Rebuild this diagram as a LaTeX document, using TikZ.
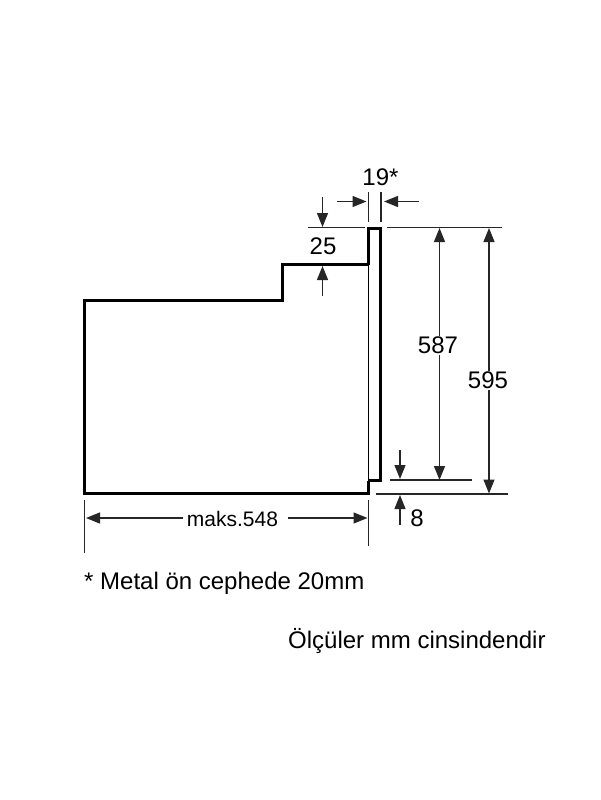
\documentclass[tikz,border=0pt]{standalone}
\usepackage{fontspec}
\setmainfont{Liberation Sans}
\usetikzlibrary{arrows.meta}
\tikzset{
  outline/.style={line width=2.6pt,line join=miter},
  thinline/.style={line width=1.3pt,black!85},
  dimline/.style={line width=1.3pt,black!85,-{Triangle[length=14pt,width=11pt]},shorten >=0pt},
  dimboth/.style={line width=1.3pt,black!85,{Triangle[length=14pt,width=11pt]}-{Triangle[length=14pt,width=11pt]}},
  dimtext/.style={font=\fontsize{24}{28}\selectfont,inner sep=1pt},
  notetext/.style={font=\fontsize{24}{28}\selectfont,inner sep=0pt,anchor=base west}
}
\begin{document}
\begin{tikzpicture}[x=1pt,y=-1pt]
  \useasboundingbox (0,0) rectangle (600,800);
  % body of the oven
  \coordinate (bodyA) at (84.5,300.5);
  \coordinate (bodyB) at (282.5,300.5);
  \coordinate (bodyC) at (282.5,264.5);
  \coordinate (bodyD) at (368.5,264.5);
  \coordinate (bodyE) at (368.5,493.5);
  \coordinate (bodyF) at (84.5,493.5);
  \draw[outline] (bodyD)--(bodyC)--(bodyB)--(bodyA)--(bodyF)--(bodyE)--++(0,-13);
  % front panel
  \coordinate (panelA) at (368.5,228.5);
  \coordinate (panelB) at (380.5,228.5);
  \coordinate (panelC) at (380.5,480.5);
  \coordinate (panelD) at (368.5,480.5);
  \draw[outline] (bodyD)--(panelA)--(panelB)--(panelC)--(panelD);
  \draw[line width=1.5pt] (bodyD)--(panelD);

  % extension lines
  \coordinate (topA) at (308,227.5);
  \coordinate (topB) at (365,227.5);
  \coordinate (topC) at (387,227.5);
  \coordinate (topD) at (502,227.5);
  \draw[thinline] (topA)--(topB);
  \draw[thinline] (topC)--(topD);
  \coordinate (lowA) at (390,480);
  \coordinate (lowB) at (472,480);
  \coordinate (baseA) at (376,494);
  \coordinate (baseB) at (508,494);
  \draw[thinline] (lowA)--(lowB);
  \draw[thinline] (baseA)--(baseB);
  \coordinate (gapA) at (368.5,192);
  \coordinate (gapB) at (368.5,222);
  \coordinate (gapC) at (381,192);
  \coordinate (gapD) at (381,222);
  \draw[thinline] (gapA)--(gapB);
  \draw[thinline] (gapC)--(gapD);
  \coordinate (depthA) at (84.5,500);
  \coordinate (depthB) at (84.5,553);
  \coordinate (depthC) at (368.5,500);
  \coordinate (depthD) at (368.5,546);
  \draw[thinline] (depthA)--(depthB);
  \draw[thinline] (depthC)--(depthD);

  % 19*
  \node[dimtext] (gaptext) at (380.5,177) {19*};
  \coordinate (gapE) at (337,201.5);
  \coordinate (gapF) at (366.5,201.5);
  \coordinate (gapG) at (419,201.5);
  \coordinate (gapH) at (384,201.5);
  \draw[dimline] (gapE)--(gapF);
  \draw[dimline] (gapG)--(gapH);

  % 25
  \node[dimtext] (steptext) at (323,246) {25};
  \coordinate (stepA) at (322.5,197);
  \coordinate (stepB) at (322.5,227);
  \coordinate (stepC) at (322.5,296);
  \coordinate (stepD) at (322.5,266);
  \draw[dimline] (stepA)--(stepB);
  \draw[dimline] (stepC)--(stepD);

  % 587 and 595
  \coordinate (innerA) at (439.5,228);
  \coordinate (innerB) at (439.5,480);
  \coordinate (outerA) at (489,228);
  \coordinate (outerB) at (489,493.5);
  \draw[dimboth] (innerA)--(innerB);
  \draw[dimboth] (outerA)--(outerB);
  \node[dimtext,fill=white] (innertext) at (438,345) {587};
  \node[dimtext,fill=white] (outertext) at (488,380) {595};

  % 8
  \node[dimtext] (footB) at (417,518) {8};
  \coordinate (footA) at (400,449.5);
  \coordinate (footC) at (400,479);
  \coordinate (footD) at (400,525);
  \coordinate (footE) at (400,495);
  \draw[dimline] (footA)--(footC);
  \draw[dimline] (footD)--(footE);

  % maks.548
  \node[dimtext,font=\fontsize{21}{25}\selectfont] (depthtext) at (232.5,519) {maks.548};
  \coordinate (depthE) at (183,518);
  \coordinate (depthF) at (86,518);
  \coordinate (depthG) at (288,518);
  \coordinate (depthH) at (367.5,518);
  \draw[dimline] (depthE)--(depthF);
  \draw[dimline] (depthG)--(depthH);

  % notes
  \node[notetext] (metalnote) at (84,589) {* Metal ön cephede 20mm};
  \node[notetext] (unitnote) at (288,648) {Ölçüler mm cinsindendir};
\end{tikzpicture}
\end{document}
